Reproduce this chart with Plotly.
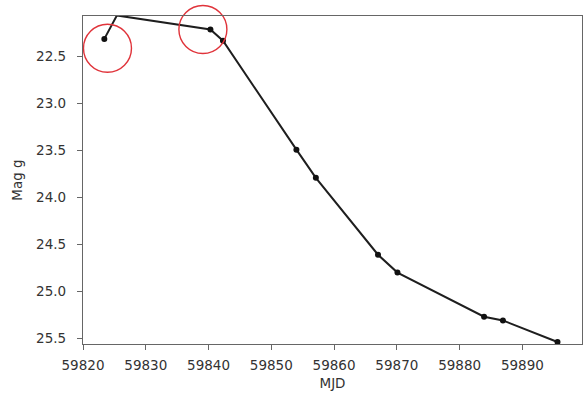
import plotly.graph_objects as go

# g-band light curve
mjd = [59823.4, 59825.4, 59840.3, 59842.3, 59854.0, 59857.1,
       59867.0, 59870.1, 59883.9, 59886.9, 59895.6]
mag_g = [22.31, 22.06, 22.21, 22.33, 23.49, 23.79,
         24.61, 24.80, 25.27, 25.31, 25.54]

# highlighted regions (open red rings)
ring_mjd = [59823.9, 59839.1]
ring_mag = [22.41, 22.21]

x_ticks = [59820, 59830, 59840, 59850, 59860, 59870, 59880, 59890]
y_ticks = [22.5, 23.0, 23.5, 24.0, 24.5, 25.0, 25.5]

fig = go.Figure()
fig.add_trace(go.Scatter(
    x=mjd, y=mag_g, mode="lines+markers",
    line=dict(color="#1e1e1e", width=2),
    marker=dict(color="#111", size=6),
    showlegend=False,
))
fig.add_trace(go.Scatter(
    x=ring_mjd, y=ring_mag, mode="markers",
    marker=dict(symbol="circle-open", size=48,
                line=dict(color="#e0333a", width=1.4), color="#e0333a"),
    cliponaxis=False, showlegend=False,
))

font = dict(family="DejaVu Sans", size=13.5, color="#333")
fig.update_layout(
    width=583, height=393,
    margin=dict(l=83, r=1, t=16, b=49),
    paper_bgcolor="white", plot_bgcolor="white",
    font=font,
    xaxis=dict(
        range=[59820, 59899.5], tickvals=x_ticks, tickformat="d",
        showgrid=False, zeroline=False,
        showline=True, mirror=True, linecolor="#666", linewidth=1.3,
        ticks="outside", ticklen=5, tickcolor="#666", tickwidth=1.2,
        ticklabelstandoff=4,
        title=dict(text="MJD", standoff=6, font=font),
    ),
    yaxis=dict(
        range=[25.561, 22.066], tickvals=y_ticks, tickformat=".1f",
        showgrid=False, zeroline=False,
        showline=True, mirror=True, linecolor="#666", linewidth=1.3,
        ticks="outside", ticklen=5, tickcolor="#666", tickwidth=1.2,
        ticklabelstandoff=8,
        title=dict(text="Mag g", standoff=10, font=font),
    ),
)

fig.write_html("out.html")
